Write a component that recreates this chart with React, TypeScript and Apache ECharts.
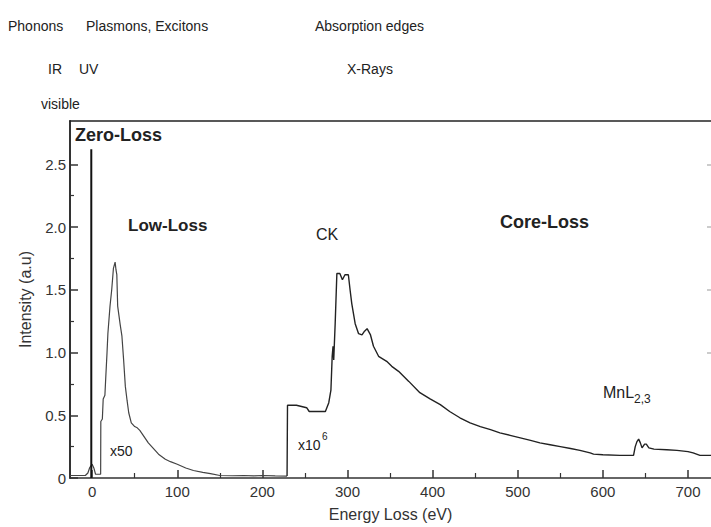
import React, { useEffect, useRef } from "react";
import * as echarts from "echarts";

// Low-loss spectrum (x50), energy in eV
const lowLossEnergy = [-26, -8, -5, -3, 0, 2, 4, 10, 10.2, 12, 13, 15, 16, 17.5, 18.5, 21, 23, 25, 27, 28, 29, 30, 33, 35, 37, 39, 41, 43, 46, 50, 53, 56, 59, 62, 66, 70, 74, 78, 86, 92, 100, 110, 119, 130, 139, 150, 165, 178, 190, 200, 215, 229];
const lowLossIntensity = [0.02, 0.02, 0.04, 0.08, 0.11, 0.08, 0.03, 0.03, 0.45, 0.47, 0.63, 0.66, 0.8, 1.0, 1.15, 1.37, 1.5, 1.67, 1.72, 1.66, 1.62, 1.37, 1.22, 1.13, 0.94, 0.73, 0.62, 0.52, 0.44, 0.41, 0.4, 0.38, 0.35, 0.32, 0.28, 0.25, 0.22, 0.19, 0.15, 0.13, 0.11, 0.08, 0.06, 0.045, 0.035, 0.02, 0.018, 0.02, 0.017, 0.02, 0.017, 0.015];

// Core-loss spectrum (x10^6)
const coreLossEnergy = [229, 229.5, 240, 252, 255, 274, 278, 280.5, 282, 283, 283.8, 285.5, 287.5, 291, 294, 297, 301, 303, 305, 309, 313, 317, 320, 323, 327, 330.5, 336.5, 346, 352, 360, 372, 385, 397, 409, 420, 432, 444, 456, 468, 479, 491, 503, 515, 526, 538, 550, 562, 573, 585, 589, 600, 620, 636, 638, 640, 642, 644, 646, 649, 651, 654, 660, 675, 687, 700, 706, 714, 727];
const coreLossIntensity = [0.015, 0.58, 0.58, 0.56, 0.53, 0.53, 0.6, 0.7, 0.97, 1.05, 0.94, 1.23, 1.63, 1.63, 1.58, 1.62, 1.62, 1.5, 1.39, 1.23, 1.15, 1.14, 1.17, 1.19, 1.14, 1.05, 0.97, 0.93, 0.89, 0.85, 0.77, 0.68, 0.63, 0.585, 0.53, 0.48, 0.44, 0.41, 0.385, 0.36, 0.34, 0.32, 0.3, 0.28, 0.265, 0.25, 0.235, 0.22, 0.2, 0.19, 0.185, 0.18, 0.18, 0.25, 0.29, 0.31, 0.28, 0.24, 0.27, 0.27, 0.24, 0.23, 0.225, 0.22, 0.21, 0.2, 0.18, 0.18];

// Zero-loss peak
const zeroLossEnergy = [-1, -1];
const zeroLossIntensity = [0, 2.62];

const xMajorTicks = [0, 100, 200, 300, 400, 500, 600, 700];
const xMinorTicks = [50, 150, 250, 350, 450, 550, 650];
const yMajorTicks = [0, 0.5, 1.0, 1.5, 2.0, 2.5];
const yMinorTicks = [0.25, 0.75, 1.25, 1.75, 2.25];
const yRightTicks = [1.0, 1.5, 2.0, 2.5];

const pairs = (xs: number[], ys: number[]) => xs.map((x, i) => [x, ys[i]]);

const X_MIN = -26;
const X_MAX = 727;
const Y_MIN = 0;
const Y_MAX = 2.845;

export default function App() {
  const ref = useRef<HTMLDivElement>(null);
  useEffect(() => {
    if (!ref.current) return;
    const chart = echarts.init(ref.current, undefined, { renderer: "svg" });
    const tickFont = { fontFamily: "Liberation Sans", fontSize: 15, color: "#333" };
    const topFont = "14px 'Liberation Sans'";
    const txt = (text: string, x: number, y: number, font: string, extra: any = {}) => ({
      type: "text",
      x,
      y,
      style: { text, font, fill: "#222", verticalAlign: "middle", align: "left", ...extra },
    });
    chart.setOption({
      animation: false,
      backgroundColor: "#fff",
      grid: { left: 70, right: 0, top: 121, bottom: 46 },
      xAxis: [
        {
          type: "value",
          position: "bottom",
          min: X_MIN,
          max: X_MAX,
          name: "Energy Loss (eV)",
          nameLocation: "middle",
          nameGap: 28,
          nameTextStyle: { fontFamily: "Liberation Sans", fontSize: 16, color: "#333" },
          axisLine: { show: true, onZero: false, lineStyle: { color: "#333", width: 1.5 } },
          axisTick: { show: true, inside: true, length: 8, customValues: xMajorTicks, lineStyle: { color: "#333", width: 1.5 } },
          axisLabel: { show: true, customValues: xMajorTicks, margin: 6, ...tickFont },
          splitLine: { show: false },
        },
        {
          type: "value",
          position: "bottom",
          min: X_MIN,
          max: X_MAX,
          axisLine: { show: false, onZero: false },
          axisTick: { show: true, inside: true, length: 5, customValues: xMinorTicks, lineStyle: { color: "#333", width: 1.2 } },
          axisLabel: { show: false },
          splitLine: { show: false },
        },
        {
          type: "value",
          position: "top",
          min: X_MIN,
          max: X_MAX,
          axisLine: { show: true, onZero: false, lineStyle: { color: "#222", width: 1.5 } },
          axisTick: { show: false },
          axisLabel: { show: false },
          splitLine: { show: false },
        },
      ],
      yAxis: [
        {
          type: "value",
          position: "left",
          min: Y_MIN,
          max: Y_MAX,
          name: "Intensity (a.u)",
          nameLocation: "middle",
          nameGap: 37,
          nameTextStyle: { fontFamily: "Liberation Sans", fontSize: 16, color: "#333" },
          axisLine: { show: true, onZero: false, lineStyle: { color: "#333", width: 2 } },
          axisTick: { show: true, inside: true, length: 8, customValues: yMajorTicks, lineStyle: { color: "#333", width: 1.5 } },
          axisLabel: {
            show: true,
            customValues: yMajorTicks,
            margin: 4,
            formatter: (v: number) => (v === 0 ? "0" : v.toFixed(1)),
            ...tickFont,
          },
          splitLine: { show: false },
        },
        {
          type: "value",
          position: "left",
          min: Y_MIN,
          max: Y_MAX,
          axisLine: { show: false, onZero: false },
          axisTick: { show: true, inside: true, length: 4, customValues: yMinorTicks, lineStyle: { color: "#333", width: 1.2 } },
          axisLabel: { show: false },
          splitLine: { show: false },
        },
        {
          type: "value",
          position: "right",
          min: Y_MIN,
          max: Y_MAX,
          axisLine: { show: false, onZero: false },
          axisTick: { show: true, inside: true, length: 4, customValues: yRightTicks, lineStyle: { color: "#bbb", width: 1.5 } },
          axisLabel: { show: false },
          splitLine: { show: false },
        },
      ],
      series: [
        {
          type: "line",
          name: "Low-Loss",
          xAxisIndex: 0,
          yAxisIndex: 0,
          data: pairs(lowLossEnergy, lowLossIntensity),
          showSymbol: false,
          symbol: "none",
          lineStyle: { color: "#444", width: 1.2 },
        },
        {
          type: "line",
          name: "Core-Loss",
          xAxisIndex: 0,
          yAxisIndex: 0,
          data: pairs(coreLossEnergy, coreLossIntensity),
          showSymbol: false,
          symbol: "none",
          lineStyle: { color: "#222", width: 1.4 },
        },
        {
          type: "line",
          name: "Zero-Loss",
          xAxisIndex: 0,
          yAxisIndex: 0,
          data: pairs(zeroLossEnergy, zeroLossIntensity),
          showSymbol: false,
          symbol: "none",
          lineStyle: { color: "#111", width: 2 },
        },
      ],
      graphic: [
        txt("Phonons", 8, 26, topFont),
        txt("Plasmons, Excitons", 86, 26, topFont),
        txt("Absorption edges", 315, 26, topFont),
        txt("IR", 48, 69, topFont),
        txt("UV", 79, 69, topFont),
        txt("X-Rays", 347, 69, topFont),
        txt("visible", 41, 104, topFont),
        txt("Zero-Loss", 75, 135, "bold 18px 'Liberation Sans'"),
        txt("Low-Loss", 128, 225, "bold 17px 'Liberation Sans'"),
        txt("Core-Loss", 500, 222, "bold 18px 'Liberation Sans'"),
        txt("CK", 316, 234, "16px 'Liberation Sans'"),
        txt("MnL", 603, 392, "16px 'Liberation Sans'"),
        txt("2,3", 634, 399, "12px 'Liberation Sans'"),
        txt("x50", 110, 451, "14px 'Liberation Sans'"),
        txt("x10", 298, 445, "14px 'Liberation Sans'"),
        txt("6", 322, 436, "10px 'Liberation Sans'"),
      ],
    });
    return () => chart.dispose();
  }, []);
  return <div ref={ref} style={{ position: "fixed", left: 0, top: 0, width: 711, height: 527, background: "#fff" }} />;
}
